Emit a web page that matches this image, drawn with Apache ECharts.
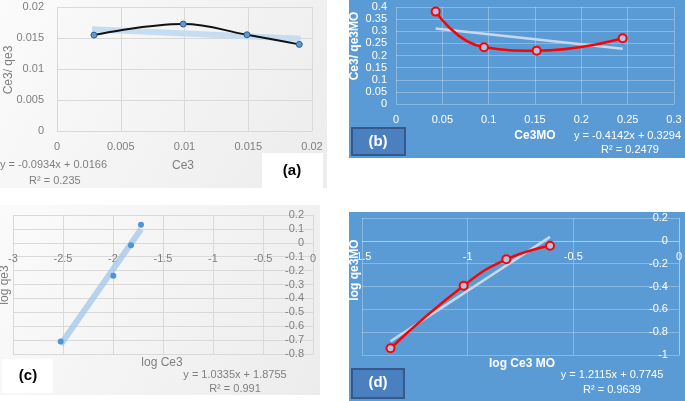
<!DOCTYPE html>
<html>
<head>
<meta charset="utf-8">
<script src="https://cdn.jsdelivr.net/npm/echarts@6/dist/echarts.min.js"></script>
<style>html,body{margin:0;padding:0;background:#fff}#c{width:685px;height:401px}</style>
</head>
<body>
<div id="c"></div>
<script>
// Panel (a)
const ceA = [0.0029, 0.0099, 0.0149, 0.0190];
const ratioA = [0.01547, 0.01725, 0.01552, 0.01397];
const trendA = [[0.00275, 0.01642], [0.0191, 0.01487]];
// Panel (b)
const ceB = [0.0428, 0.0950, 0.1518, 0.2446];
const ratioB = [0.381, 0.234, 0.220, 0.271];
const trendB = [[0.0428, 0.3117], [0.2446, 0.2281]];
// Panel (c)
const logCeC = [-2.523, -1.997, -1.820, -1.720];
const logQeC = [-0.710, -0.237, -0.017, 0.129];
const trendC = [[-2.523, -0.732], [-1.720, 0.098]];
// Panel (d)
const logCeD = [-1.365, -1.019, -0.817, -0.610];
const logQeD = [-0.941, -0.393, -0.162, -0.043];
const trendD = [[-1.365, -0.879], [-0.610, 0.035]];

const FONT = 'Liberation Sans';
const GRAY = '#7f7f7f';
const BLUE = '#5b9bd5';
const pairs = (xs, ys) => xs.map((x, i) => [x, ys[i]]);

const grayAxis = (extra) => Object.assign({
  type: 'value',
  axisLine: { show: false },
  axisTick: { show: false },
  splitLine: { show: true, lineStyle: { color: '#d9d9d9', width: 1 } },
  axisLabel: { color: GRAY, fontSize: 11, fontFamily: FONT, margin: 10 }
}, extra);
const blueAxis = (extra) => Object.assign({
  type: 'value',
  axisLine: { show: false },
  axisTick: { show: false },
  splitLine: { show: true, lineStyle: { color: 'rgba(255,255,255,0.28)', width: 1 } },
  axisLabel: { color: '#ffffff', fontSize: 11, fontFamily: FONT, margin: 10 }
}, extra);

function txt(x, y, s, o) {
  o = o || {};
  return {
    type: 'text', x: x, y: y, rotation: o.rot || 0, z: 100,
    style: {
      text: s, fill: o.color || GRAY, font: (o.bold ? 'bold ' : '') + (o.size || 12) + 'px "' + FONT + '"',
      textAlign: o.align || 'center', textVerticalAlign: 'middle'
    }
  };
}

const graphics = [
  { type: 'rect', z: -10, shape: { x: 0, y: 0, width: 327, height: 188 },
    style: { fill: new echarts.graphic.LinearGradient(0, 0, 1, 1, [{ offset: 0, color: '#fbfbfb' }, { offset: 1, color: '#ececec' }]) } },
  { type: 'rect', z: -10, shape: { x: 0, y: 205, width: 320, height: 190 },
    style: { fill: new echarts.graphic.LinearGradient(0, 0, 1, 1, [{ offset: 0, color: '#fbfbfb' }, { offset: 1, color: '#ececec' }]) } },
  { type: 'rect', z: -10, shape: { x: 349, y: 0, width: 336, height: 158 }, style: { fill: BLUE } },
  { type: 'rect', z: -10, shape: { x: 349, y: 212, width: 336, height: 189 }, style: { fill: BLUE } },
  // label boxes
  { type: 'rect', z: 90, shape: { x: 262, y: 153, width: 61, height: 35 }, style: { fill: '#ffffff' } },
  txt(292, 171, '(a)', { color: '#000', bold: true, size: 15 }),
  { type: 'rect', z: 90, shape: { x: 352, y: 128, width: 53, height: 27 }, style: { fill: '#4a7fc0', stroke: '#36598a', lineWidth: 2 } },
  txt(378, 142, '(b)', { color: '#fff', bold: true, size: 15 }),
  { type: 'rect', z: 90, shape: { x: 2, y: 359, width: 51, height: 34 }, style: { fill: '#ffffff' } },
  txt(28, 376, '(c)', { color: '#000', bold: true, size: 15 }),
  { type: 'rect', z: 90, shape: { x: 352, y: 369, width: 52, height: 29 }, style: { fill: '#4a7fc0', stroke: '#36598a', lineWidth: 2 } },
  txt(378, 383, '(d)', { color: '#fff', bold: true, size: 15 }),
  // panel (a) texts
  txt(9, 70, 'Ce3/ qe3', { rot: Math.PI / 2 }),
  txt(183, 166, 'Ce3'),
  txt(0, 165, 'y = -0.0934x + 0.0166', { align: 'left', size: 11 }),
  txt(29, 181, 'R² = 0.235', { align: 'left', size: 11 }),
  // panel (b) texts
  txt(355, 46, 'Ce3/ qe3MO', { rot: Math.PI / 2, color: '#fff', bold: true }),
  txt(535, 136, 'Ce3MO', { color: '#fff', bold: true }),
  txt(681, 136, 'y = -0.4142x + 0.3294', { align: 'right', color: '#fff', size: 11 }),
  txt(630, 150, 'R² = 0.2479', { color: '#fff', size: 11 }),
  // panel (c) texts
  txt(5, 285, 'log qe3', { rot: Math.PI / 2 }),
  txt(162, 363, 'log Ce3'),
  txt(235, 375, 'y = 1.0335x + 1.8755', { size: 11 }),
  txt(235, 389, 'R² = 0.991', { size: 11 }),
  // panel (d) texts
  txt(355, 270, 'log qe3MO', { rot: Math.PI / 2, color: '#fff', bold: true }),
  txt(522, 364, 'log Ce3 MO', { color: '#fff', bold: true }),
  txt(612, 375, 'y = 1.2115x + 0.7745', { color: '#fff', size: 11 }),
  txt(612, 390, 'R² = 0.9639', { color: '#fff', size: 11 })
];

const option = {
  animation: false,
  graphic: { elements: graphics },
  grid: [
    { left: 57, top: 7, width: 255, height: 124 },
    { left: 396, top: 7, width: 278, height: 97 },
    { left: 13, top: 215, width: 300, height: 139 },
    { left: 362, top: 218, width: 318, height: 137 }
  ],
  xAxis: [
    grayAxis({ gridIndex: 0, min: 0, max: 0.02, interval: 0.005 }),
    blueAxis({ gridIndex: 1, min: 0, max: 0.3, interval: 0.05 }),
    grayAxis({ gridIndex: 2, min: -3, max: 0, interval: 0.5, position: 'bottom', offset: -111,
      axisLine: { show: true, onZero: false, lineStyle: { color: '#d9d9d9' } },
      axisLabel: { color: GRAY, fontSize: 11, fontFamily: FONT, margin: 10 } }),
    blueAxis({ gridIndex: 3, min: -1.5, max: 0, interval: 0.5, position: 'bottom', offset: -114,
      axisLine: { show: true, onZero: false, lineStyle: { color: 'rgba(255,255,255,0.28)' } },
      axisLabel: { color: '#fff', fontSize: 11, fontFamily: FONT, margin: 10 } })
  ],
  yAxis: [
    grayAxis({ gridIndex: 0, min: 0, max: 0.02, interval: 0.005, axisLabel: { color: GRAY, fontSize: 11, fontFamily: FONT, margin: 13 } }),
    blueAxis({ gridIndex: 1, min: 0, max: 0.4, interval: 0.05, axisLabel: { color: '#fff', fontSize: 11, fontFamily: FONT, margin: 9 } }),
    grayAxis({ gridIndex: 2, min: -0.8, max: 0.2, interval: 0.1, position: 'right',
      axisLine: { show: true, onZero: false, lineStyle: { color: '#d9d9d9' } },
      axisLabel: { inside: true, color: GRAY, fontSize: 11, fontFamily: FONT, margin: 9 } }),
    blueAxis({ gridIndex: 3, min: -1, max: 0.2, interval: 0.2, position: 'right',
      axisLine: { show: true, onZero: false, lineStyle: { color: 'rgba(255,255,255,0.28)' } },
      axisLabel: { inside: true, color: '#fff', fontSize: 11, fontFamily: FONT, margin: 11 } })
  ],
  series: [
    { type: 'line', xAxisIndex: 0, yAxisIndex: 0, data: trendA, symbol: 'none',
      lineStyle: { color: '#c6dcf0', width: 6 }, z: 2 },
    { type: 'line', xAxisIndex: 0, yAxisIndex: 0, data: pairs(ceA, ratioA), smooth: 0.4,
      lineStyle: { color: '#111', width: 2 }, symbol: 'circle', symbolSize: 6,
      itemStyle: { color: BLUE, borderColor: '#2f5f8f', borderWidth: 1 }, z: 3 },

    { type: 'line', xAxisIndex: 1, yAxisIndex: 1, data: trendB, symbol: 'none',
      lineStyle: { color: '#c8d8ec', width: 2.5 }, z: 2 },
    { type: 'line', xAxisIndex: 1, yAxisIndex: 1, data: pairs(ceB, ratioB), smooth: 0.5,
      lineStyle: { color: '#ff0000', width: 2.5 }, symbol: 'circle', symbolSize: 8,
      itemStyle: { color: '#a9c6e8', borderColor: '#ff0000', borderWidth: 2 }, z: 3 },

    { type: 'line', xAxisIndex: 2, yAxisIndex: 2, data: trendC, symbol: 'none',
      lineStyle: { color: 'rgba(160,198,232,0.75)', width: 6 }, z: 2 },
    { type: 'line', xAxisIndex: 2, yAxisIndex: 2, data: pairs(logCeC, logQeC),
      lineStyle: { width: 0, opacity: 0 }, symbol: 'circle', symbolSize: 6,
      itemStyle: { color: '#4f94d8' }, z: 3 },

    { type: 'line', xAxisIndex: 3, yAxisIndex: 3, data: trendD, symbol: 'none',
      lineStyle: { color: '#c8d8ec', width: 2.5 }, z: 2 },
    { type: 'line', xAxisIndex: 3, yAxisIndex: 3, data: pairs(logCeD, logQeD), smooth: 0.5,
      lineStyle: { color: '#ff0000', width: 2.5 }, symbol: 'circle', symbolSize: 8,
      itemStyle: { color: '#a9c6e8', borderColor: '#ff0000', borderWidth: 2 }, z: 3 }
  ]
};
const chart = echarts.init(document.getElementById('c'), null, { renderer: 'canvas' });
chart.setOption(option);
</script>
</body>
</html>
